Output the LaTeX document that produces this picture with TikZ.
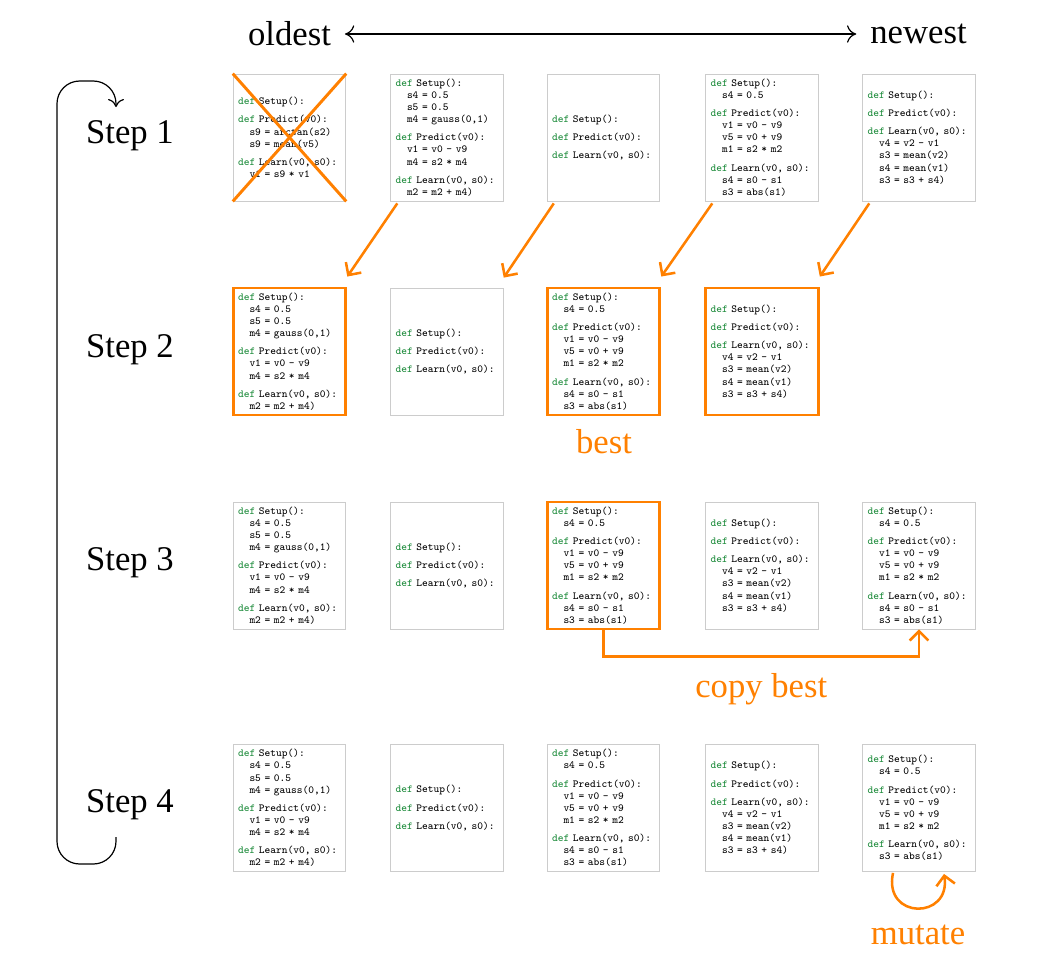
\documentclass[tikz,border=0pt]{standalone}
\usepackage{fontspec}
\setmainfont{Liberation Serif}
\usepackage{xcolor}
\usepackage{tikz}
\usetikzlibrary{arrows.meta}
\usetikzlibrary{calc}
\definecolor{bestcolor}{HTML}{FF8000}
\definecolor{defcolor}{HTML}{1E8C3C}
\definecolor{boxcolor}{HTML}{CCCCCC}

\newcommand{\kw}{\textcolor{defcolor}{def}}
\newcommand{\ind}{\hspace*{1.05em}}
\newcommand{\gap}{\\[4.5pt]}

\newcommand{\progX}{\kw{} Setup():\gap \kw{} Predict(v0):\\ \ind s9 = arctan(s2)\\ \ind s9 = mean(v5)\gap \kw{} Learn(v0, s0):\\ \ind v1 = s9 * v1}
\newcommand{\progA}{\kw{} Setup():\\ \ind s4 = 0.5\\ \ind s5 = 0.5\\ \ind m4 = gauss(0,1)\gap \kw{} Predict(v0):\\ \ind v1 = v0 - v9\\ \ind m4 = s2 * m4\gap \kw{} Learn(v0, s0):\\ \ind m2 = m2 + m4)}
\newcommand{\progB}{\kw{} Setup():\gap \kw{} Predict(v0):\gap \kw{} Learn(v0, s0):}
\newcommand{\progC}{\kw{} Setup():\\ \ind s4 = 0.5\gap \kw{} Predict(v0):\\ \ind v1 = v0 - v9\\ \ind v5 = v0 + v9\\ \ind m1 = s2 * m2\gap \kw{} Learn(v0, s0):\\ \ind s4 = s0 - s1\\ \ind s3 = abs(s1)}
\newcommand{\progD}{\kw{} Setup():\gap \kw{} Predict(v0):\gap \kw{} Learn(v0, s0):\\ \ind v4 = v2 - v1\\ \ind s3 = mean(v2)\\ \ind s4 = mean(v1)\\ \ind s3 = s3 + s4)}
\newcommand{\progM}{\kw{} Setup():\\ \ind s4 = 0.5\gap \kw{} Predict(v0):\\ \ind v1 = v0 - v9\\ \ind v5 = v0 + v9\\ \ind m1 = s2 * m2\gap \kw{} Learn(v0, s0):\\ \ind s3 = abs(s1)}

\begin{document}
\begin{tikzpicture}[x=0.75pt,y=-0.75pt,
  prog/.style={draw=boxcolor, line width=0.6pt, fill=white, text width=77pt, inner xsep=3.75pt, inner ysep=2pt,
    minimum height=95.25pt, align=left, font=\ttfamily\fontsize{8.1}{9.1}\selectfont},
  bestprog/.style={prog, draw=bestcolor, line width=2.2pt},
  lbl/.style={font=\fontsize{26}{30}\selectfont},
  bestlbl/.style={lbl, text=bestcolor},
  evo/.style={draw=bestcolor, line width=1.9pt, -{Straight Barb[length=7pt,width=14pt]}},
  cross/.style={draw=bestcolor, line width=2.2pt},
  looparrow/.style={line width=0.9pt, -{Computer Modern Rightarrow[length=6pt,width=12pt]}},
  timearrow/.style={line width=0.9pt, shorten <=7pt, shorten >=7pt,
    {Computer Modern Rightarrow[length=7pt,width=13pt]}-{Computer Modern Rightarrow[length=7pt,width=13pt]}}]
\useasboundingbox (0,0) rectangle (1042,965);

%% time axis
\node[lbl] (oldest) at (289.5,34) {oldest};
\node[lbl] (newest) at (918.5,34) {newest};
\draw[timearrow] (oldest) -- (newest);

%% step labels
\foreach \r/\y in {1/136, 2/350, 3/563, 4/805}
    \node[lbl] (step\r) at (130,\y) {Step \r};
\draw[looparrow, rounded corners=17pt] (116,837) -- (116,864) -- (57,864) -- (57,81) -- (116,81) -- (116,107);

%% populations
\foreach \c/\x/\st/\prg in {1/289.5/prog/\progX, 2/447/prog/\progA, 3/603.5/prog/\progB, 4/762/prog/\progC, 5/919/prog/\progD}
    \node[\st] (s1c\c) at (\x,137.5) {\prg};
\foreach \c/\x/\st/\prg in {1/289.5/bestprog/\progA, 2/447/prog/\progB, 3/603.5/bestprog/\progC, 4/762/bestprog/\progD}
    \node[\st] (s2c\c) at (\x,351.5) {\prg};
\foreach \c/\x/\st/\prg in {1/289.5/prog/\progA, 2/447/prog/\progB, 3/603.5/bestprog/\progC, 4/762/prog/\progD, 5/919/prog/\progC}
    \node[\st] (s3c\c) at (\x,565.5) {\prg};
\foreach \c/\x/\st/\prg in {1/289.5/prog/\progA, 2/447/prog/\progB, 3/603.5/prog/\progC, 4/762/prog/\progD, 5/919/prog/\progM}
    \node[\st] (s4c\c) at (\x,808) {\prg};

%% oldest removed
\draw[cross] (s1c1.north west) -- (s1c1.south east);
\draw[cross] (s1c1.north east) -- (s1c1.south west);

%% shift
\foreach \a/\b in {2/1, 3/2, 4/3, 5/4}
    \draw[evo] ($(s1c\a.south west)+(7,2)$) -- ($(s2c\b.north east)+(0,-10)$);
\node[bestlbl] (best) at (604,441.5) {best};

%% copy best
\draw[evo] (s3c3.south) -- ++(0,26) -| node[pos=0.25, bestlbl, below=8.5pt] (copy) {copy best} (s3c5.south);

%% mutate
\draw[evo] ($(s4c5.south)+(-26,1)$) .. controls ($(s4c5.south)+(-36,48)$) and ($(s4c5.south)+(32,48)$) .. ($(s4c5.south)+(25,2)$);
\node[bestlbl] (mutate) at (918,934.5) {mutate};
\end{tikzpicture}
\end{document}
